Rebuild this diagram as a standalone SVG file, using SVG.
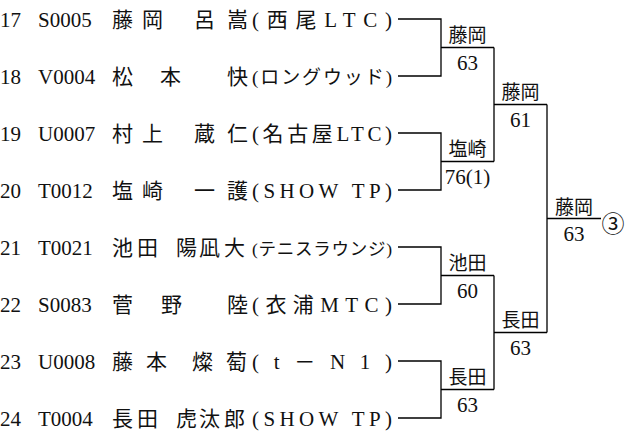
<svg xmlns="http://www.w3.org/2000/svg" width="628" height="434" viewBox="0 0 628 434">
<style>
.bg{fill:#fff}
.lat{font-family:'Liberation Serif','Times New Roman',serif;font-size:21px;fill:#111}
.cjk{font-family:'Noto Sans CJK JP',sans-serif;font-size:21px;fill:#111}
.club{font-family:'Liberation Serif','Noto Sans CJK JP',serif;font-size:21px;fill:#111}
.win{font-family:'Noto Sans CJK JP',sans-serif;font-size:19px;fill:#111;text-anchor:middle}
.score{font-family:'Liberation Serif','Times New Roman',serif;font-size:21px;fill:#111;text-anchor:middle}
.ln{stroke:#000;stroke-width:1.3;fill:none}
</style>
<rect class="bg" x="0" y="0" width="628" height="434"/>
<g id="p17">
<text class="lat" x="0" y="26.5">17</text><text class="lat" x="38" y="26.5">S0005</text>
<text class="cjk" x="112 142 194 227" y="26.5">藤岡呂嵩</text>
<text class="club" x="252" y="26.5" textLength="140" lengthAdjust="spacing">(西尾LTC)</text>
</g>
<g id="p18">
<text class="lat" x="0" y="83.5">18</text><text class="lat" x="38" y="83.5">V0004</text>
<text class="cjk" x="112 160 227" y="83.5">松本快</text>
<text class="club" x="252" y="83.5" textLength="140" lengthAdjust="spacing" style="font-size:19px">(ロングウッド)</text>
</g>
<g id="p19">
<text class="lat" x="0" y="140.5">19</text><text class="lat" x="38" y="140.5">U0007</text>
<text class="cjk" x="112 142 194 227" y="140.5">村上蔵仁</text>
<text class="club" x="252" y="140.5" textLength="140" lengthAdjust="spacing">(名古屋LTC)</text>
</g>
<g id="p20">
<text class="lat" x="0" y="197.5">20</text><text class="lat" x="38" y="197.5">T0012</text>
<text class="cjk" x="112 142 194 227" y="197.5">塩崎一護</text>
<text class="club" x="252" y="197.5" textLength="140" lengthAdjust="spacing">(SHOW TP)</text>
</g>
<g id="p21">
<text class="lat" x="0" y="254.5">21</text><text class="lat" x="38" y="254.5">T0021</text>
<text class="cjk" x="112 137 176 199 224" y="254.5">池田陽凪大</text>
<text class="club" x="252" y="254.5" textLength="140" lengthAdjust="spacing" style="font-size:17.5px">(テニスラウンジ)</text>
</g>
<g id="p22">
<text class="lat" x="0" y="311.5">22</text><text class="lat" x="38" y="311.5">S0083</text>
<text class="cjk" x="112 161 227" y="311.5">菅野陸</text>
<text class="club" x="252" y="311.5" textLength="140" lengthAdjust="spacing">(衣浦MTC)</text>
</g>
<g id="p23">
<text class="lat" x="0" y="368.5">23</text><text class="lat" x="38" y="368.5">U0008</text>
<text class="cjk" x="112 146 192 226" y="368.5">藤本燦萄</text>
<text class="club" x="252" y="368.5" textLength="140" lengthAdjust="spacing">(t－N1)</text>
</g>
<g id="p24">
<text class="lat" x="0" y="425.5">24</text><text class="lat" x="38" y="425.5">T0004</text>
<text class="cjk" x="112 137 176 199 224" y="425.5">長田虎汰郎</text>
<text class="club" x="252" y="425.5" textLength="140" lengthAdjust="spacing">(SHOW TP)</text>
</g>
<g id="connectors">
<path class="ln" d="M398 19H441V76H398M441 47.5H494"/>
<path class="ln" d="M398 133H441V190H398M441 161.5H494"/>
<path class="ln" d="M398 247H441V304H398M441 275.5H494"/>
<path class="ln" d="M398 361H441V418H398M441 389.5H494"/>
<path class="ln" d="M494 47.5V161.5M494 104.5H547"/>
<path class="ln" d="M494 275.5V389.5M494 332.5H547"/>
<path class="ln" d="M547 104.5V332.5M547 218.5H601"/>
</g>
<g id="m1"><text class="win" x="467.5" y="42">藤岡</text><text class="score" x="467.5" y="70">63</text></g>
<g id="m2"><text class="win" x="467.5" y="156">塩崎</text><text class="score" x="467.5" y="184">76(1)</text></g>
<g id="m3"><text class="win" x="467.5" y="270">池田</text><text class="score" x="467.5" y="298">60</text></g>
<g id="m4"><text class="win" x="467.5" y="384">長田</text><text class="score" x="467.5" y="412">63</text></g>
<g id="m5"><text class="win" x="520.5" y="99">藤岡</text><text class="score" x="520.5" y="127">61</text></g>
<g id="m6"><text class="win" x="520.5" y="327">長田</text><text class="score" x="520.5" y="355">63</text></g>
<g id="m7"><text class="win" x="574" y="213.5">藤岡</text><text class="score" x="574" y="241">63</text>
<text x="613" y="232" style="font-family:'Noto Sans CJK JP',sans-serif;font-size:23px;fill:#111;text-anchor:middle">③</text></g>
</svg>
